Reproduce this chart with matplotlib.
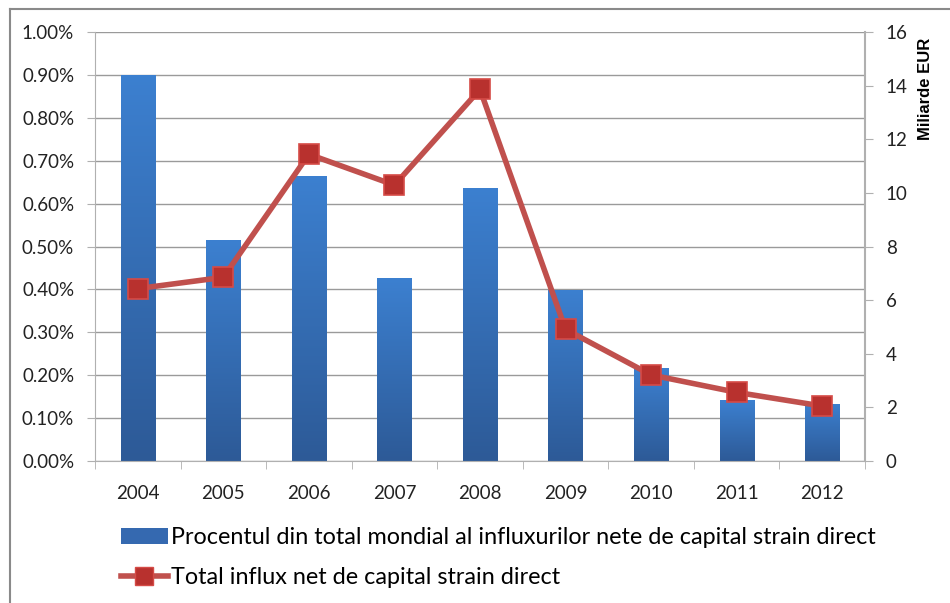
import numpy as np
import matplotlib
matplotlib.use("Agg")
import matplotlib.pyplot as plt
from matplotlib.colors import LinearSegmentedColormap
from matplotlib.lines import Line2D
from matplotlib.patches import Patch

plt.rcParams['font.family'] = ['Lato', 'DejaVu Sans']

years = ["2004", "2005", "2006", "2007", "2008", "2009", "2010", "2011", "2012"]
# share of world net FDI inflows (%)
share_pct = [0.90, 0.515, 0.665, 0.426, 0.637, 0.399, 0.216, 0.142, 0.133]
# total net FDI inflow (billion EUR)
total_bn = [6.43, 6.85, 11.44, 10.29, 13.86, 4.91, 3.21, 2.56, 2.05]

bar_label = "Procentul din total mondial al influxurilor nete de capital strain direct"
line_label = "Total influx net de capital strain direct"

fig = plt.figure(figsize=(9.5, 6.03), dpi=100)
ax = fig.add_axes([95 / 950, 1 - 461 / 603, 770 / 950, 429 / 603])
ax2 = ax.twinx()

x = np.arange(len(years))
grid_c = "#9a9a9a"
axis_c = "#b0b0b0"
tick_fs = 13.5

# bars with vertical gradient
bars = ax.bar(x, share_pct, width=0.4, color="none", edgecolor="none", zorder=2)
cmap = LinearSegmentedColormap.from_list("blu", ["#2d5a97", "#3c80d0"])
grad = np.linspace(0, 1, 256).reshape(-1, 1)
for b in bars:
    x0, w, h = b.get_x(), b.get_width(), b.get_height()
    im = ax.imshow(grad, cmap=cmap, origin="lower", aspect="auto",
                   extent=[x0, x0 + w, 0, h], zorder=2)
    im.set_clip_path(b)

ax.set_xlim(-0.5, len(years) - 0.5)
ax.set_ylim(0, 1.0)
ax.set_yticks(np.arange(0, 1.01, 0.1))
ax.set_yticklabels([f"{v:.2f}%" for v in np.arange(0, 1.01, 0.1)])
ax.yaxis.grid(True, color=grid_c, linewidth=1.0)
ax.set_axisbelow(True)
ax.set_xticks(x)
ax.set_xticklabels(years)
ax.set_xticks(np.arange(-0.5, len(years), 1), minor=True)
ax.tick_params(axis="x", which="major", length=0, pad=17, labelsize=tick_fs, colors="#222222")
ax.tick_params(axis="x", which="minor", length=6, color=axis_c)
ax.tick_params(axis="y", length=6, color=axis_c, labelsize=tick_fs, labelcolor="#222222", pad=9)
ax.spines["top"].set_visible(False)
ax.spines["right"].set_visible(False)
ax.spines["left"].set_color(axis_c)
ax.spines["bottom"].set_color(axis_c)

# line on secondary axis
ax2.plot(x, total_bn, color="#c0504d", linewidth=4, marker="s", markersize=14,
         markerfacecolor="#b8312e", markeredgecolor="#d54b47", markeredgewidth=1.2, zorder=5)
ax2.set_ylim(0, 16)
ax2.set_yticks(range(0, 17, 2))
ax2.tick_params(axis="y", length=6, color=axis_c, labelsize=tick_fs, labelcolor="#222222", pad=9)
ax2.spines["right"].set_color(axis_c)
ax2.spines["right"].set_linewidth(1.5)
for s in ["top", "left", "bottom"]:
    ax2.spines[s].set_visible(False)

fig.text(926 / 950, 1 - 38 / 603, "Miliarde EUR", rotation=90, ha="center", va="top",
         fontsize=12, fontweight="bold", family=["Liberation Sans", "DejaVu Sans"])

handles = [Patch(facecolor="#3569b0", edgecolor="none"),
           Line2D([0], [0], color="#c0504d", linewidth=4, marker="s", markersize=13,
                  markerfacecolor="#b8312e", markeredgecolor="#d54b47")]
fig.legend(handles, [bar_label, line_label], loc="upper left",
           bbox_to_anchor=(100 / 950, 1 - 506 / 603), frameon=False, fontsize=16.8,
           handlelength=2.0, handletextpad=0.15, labelspacing=0.8)

# chart area border (left and top edges visible)
fig.add_artist(Line2D([10 / 950, 10 / 950], [0, 1 - 9 / 603], transform=fig.transFigure,
                      color="#8a8a8a", linewidth=1.5))
fig.add_artist(Line2D([10 / 950, 1], [1 - 9 / 603, 1 - 9 / 603], transform=fig.transFigure,
                      color="#8a8a8a", linewidth=1.5))

fig.savefig("out.png", dpi=100)
